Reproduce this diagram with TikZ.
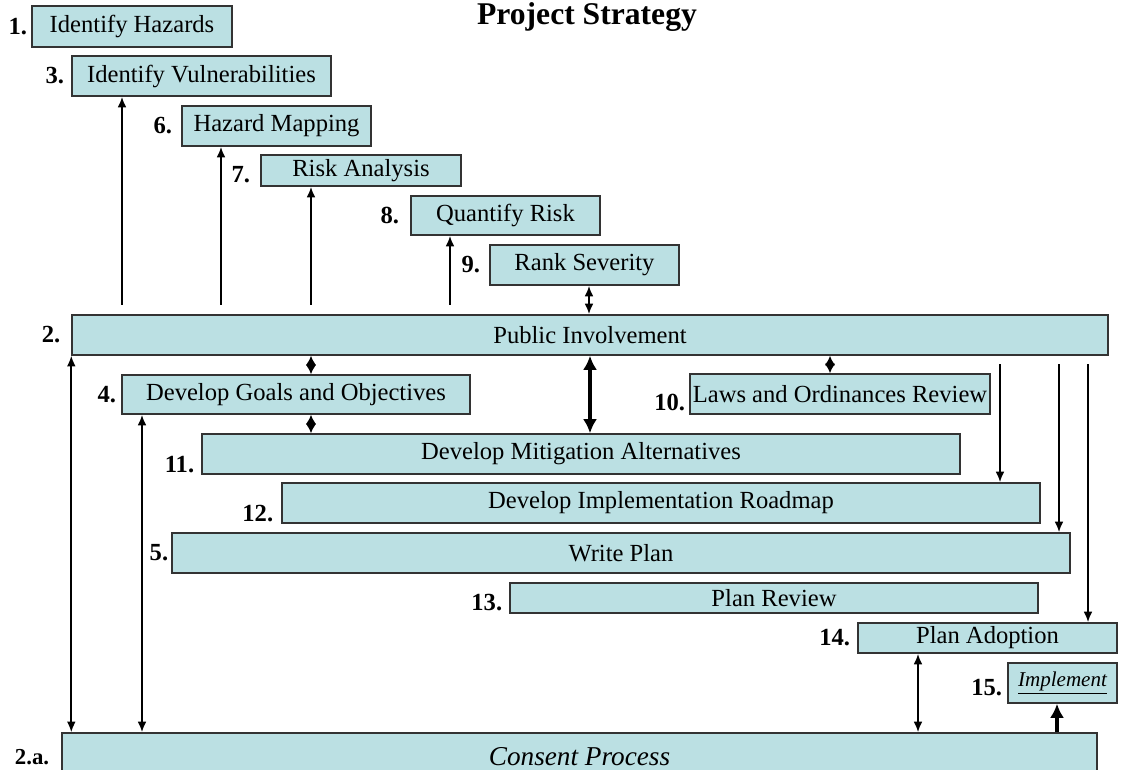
\documentclass[tikz,border=0pt]{standalone}
\usepackage{fontspec}
\setmainfont{Liberation Serif}
\usetikzlibrary{arrows.meta,positioning}
\definecolor{boxfill}{RGB}{187,224,227}

\begin{document}
\begin{tikzpicture}[x=0.02cm,y=-0.02cm,
  stage/.style={draw=black!80,line width=0.9pt,fill=boxfill,inner sep=0pt,
    font=\fontsize{14}{16}\selectfont},
  num/.style={inner sep=1pt,font=\fontsize{14}{16}\selectfont\bfseries},
  link/.style={line width=1pt,-{Latex[length=6pt,width=5pt]}},
  twoway/.style={line width=1pt,{Latex[length=6pt,width=5pt]}-{Latex[length=6pt,width=5pt]}},
  diam/.style={line width=1pt,{Latex[length=5.4pt,width=6pt]}-{Latex[length=5.4pt,width=6pt]}},
  heavy/.style={line width=2.4pt,{Latex[length=8pt,width=8pt]}-{Latex[length=8pt,width=8pt]}},
  heavyup/.style={line width=2.6pt,-{Latex[length=8pt,width=8pt]}}]
  \useasboundingbox (0,0) rectangle (1143,770);
  \clip (0,0) rectangle (1143,770);

  \node[font=\fontsize{18}{20}\selectfont\bfseries] (title) at (587,17) {Project Strategy};

  \node[stage,minimum width=4cm,minimum height=0.82cm] (hazards) at (132,26.5) {Identify Hazards};
  \node[stage,minimum width=5.18cm,minimum height=0.8cm] (vuln) at (201.5,76) {Identify Vulnerabilities};
  \node[stage,minimum width=3.78cm,minimum height=0.8cm] (mapping) at (276.5,126) {Hazard Mapping};
  \node[stage,minimum width=4cm,minimum height=0.62cm] (risk) at (361,170.5) {Risk Analysis};
  \node[stage,minimum width=3.78cm,minimum height=0.78cm] (quantify) at (505.5,215.5) {Quantify Risk};
  \node[stage,minimum width=3.78cm,minimum height=0.8cm] (rank) at (584.5,265) {Rank Severity};
  \node[stage,minimum width=20.72cm,minimum height=0.8cm] (public) at (590,335) {Public Involvement};
  \node[stage,minimum width=6.96cm,minimum height=0.78cm] (goals) at (296,394.5) {Develop Goals and Objectives};
  \node[stage,minimum width=6cm,minimum height=0.8cm] (laws) at (840,394) {Laws and Ordinances Review};
  \node[stage,minimum width=15.16cm,minimum height=0.8cm] (mitigation) at (581,454) {Develop Mitigation Alternatives};
  \node[stage,minimum width=15.16cm,minimum height=0.8cm] (roadmap) at (661,503) {Develop Implementation Roadmap};
  \node[stage,minimum width=17.96cm,minimum height=0.8cm] (write) at (621,553) {Write Plan};
  \node[stage,minimum width=10.56cm,minimum height=0.6cm] (review) at (774,598) {Plan Review};
  \node[stage,minimum width=5.18cm,minimum height=0.6cm] (adoption) at (987.5,638) {Plan Adoption};
  \node[stage,minimum width=2.18cm,minimum height=0.8cm,font=\fontsize{12}{14}\selectfont\itshape] (implement) at (1062.5,683) {\underline{Implement}};
  \node[stage,minimum width=20.7cm,minimum height=0.96cm,font=\fontsize{15.5}{18}\selectfont\itshape] (consent) at (579.5,757) {Consent Process};

  \node[num,left=0.04cm of hazards] (n1) {1.};
  \node[num,left=0.1cm of vuln] (n3) {3.};
  \node[num,left=0.14cm of mapping] (n6) {6.};
  \node[num,left=0.16cm of risk,yshift=-0.08cm] (n7) {7.};
  \node[num,left=0.18cm of quantify] (n8) {8.};
  \node[num,left=0.14cm of rank] (n9) {9.};
  \node[num,left=0.18cm of public] (n2) {2.};
  \node[num,left=0.06cm of goals] (n4) {4.};
  \node[num,left=0.04cm of laws,yshift=-0.16cm] (n10) {10.};
  \node[num,left=0.1cm of mitigation.south west,anchor=south east] (n11) {11.};
  \node[num,left=0.12cm of roadmap.south west,anchor=south east] (n12) {12.};
  \node[num,left=0.02cm of write] (n5) {5.};
  \node[num,left=0.1cm of review,yshift=-0.1cm] (n13) {13.};
  \node[num,left=0.1cm of adoption] (n14) {14.};
  \node[num,left=0.06cm of implement,yshift=-0.1cm] (n15) {15.};
  \node[num,left=0.2cm of consent,font=\fontsize{13}{15}\selectfont\bfseries] (n2a) {2.a.};

  \coordinate (f1) at (122,305);
  \coordinate (f2) at (221,305);
  \coordinate (f3) at (311,305);
  \coordinate (f4) at (450,305);
  \draw[link] (f1) -- (f1 |- vuln.south);
  \draw[link] (f2) -- (f2 |- mapping.south);
  \draw[link] (f3) -- (f3 |- risk.south);
  \draw[link] (f4) -- (f4 |- quantify.south);
  \draw[twoway] (589,0 |- rank.south) -- (589,0 |- public.north);

  \draw[diam] (311,0 |- public.south) -- (311,0 |- goals.north);
  \draw[diam] (311,0 |- goals.south) -- (311,0 |- mitigation.north);
  \draw[diam] (830,0 |- public.south) -- (830,0 |- laws.north);
  \draw[heavy] (590,0 |- public.south) -- (590,0 |- mitigation.north);

  \coordinate (g1) at (1000,364);
  \coordinate (g2) at (1059,364);
  \coordinate (g3) at (1088,364);
  \draw[link] (g1) -- (g1 |- roadmap.north);
  \draw[link] (g2) -- (g2 |- write.north);
  \draw[link] (g3) -- (g3 |- adoption.north);

  \draw[twoway] (public.south west) -- (public.south west |- consent.north);
  \draw[twoway] (142,0 |- goals.south) -- (142,0 |- consent.north);
  \draw[twoway] (918,0 |- adoption.south) -- (918,0 |- consent.north);
  \draw[heavyup] (1057,0 |- consent.north) -- (1057,0 |- implement.south);
\end{tikzpicture}
\end{document}
